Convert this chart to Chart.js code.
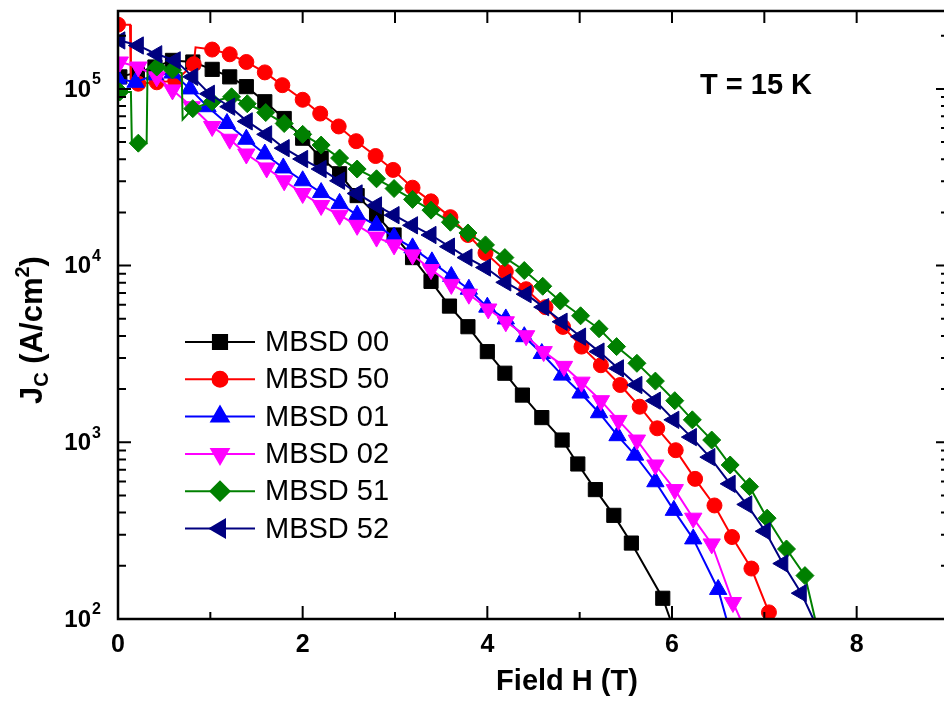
<!DOCTYPE html>
<html>
<head>
<meta charset="utf-8">
<title>Jc vs field, T = 15 K</title>
<script src="https://cdn.jsdelivr.net/npm/chart.js@4.4.1/dist/chart.umd.min.js"></script>
<style>
  html, body { margin: 0; padding: 0; background: #fff; overflow: hidden; }
  #wrap { width: 944px; height: 701px; overflow: hidden; }
</style>
</head>
<body>
<div id="wrap"><canvas id="jcChart" width="960" height="701"></canvas></div>
<script>
// field H (T) and Jc (A/cm2)
const h00 = [0.02, 0.21, 0.40, 0.59, 0.81, 1.02, 1.21, 1.39, 1.59, 1.80, 2.00, 2.20, 2.40, 2.59, 2.80, 2.99, 3.19, 3.39, 3.59, 3.79, 4.00, 4.19, 4.38, 4.59, 4.81, 4.98, 5.17, 5.37, 5.56, 5.90, 5.98];
const jc00 = [1.17e5, 1.24e5, 1.33e5, 1.45e5, 1.42e5, 1.29e5, 1.17e5, 1.03e5, 8.46e4, 6.8e4, 5.26e4, 4.06e4, 3.31e4, 2.49e4, 1.93e4, 1.49e4, 1.11e4, 8.14e3, 5.9e3, 4.51e3, 3.26e3, 2.46e3, 1.85e3, 1.38e3, 1.03e3, 754, 540, 386, 269, 131, 100];
const line00 = [30];

const h50 = [0, 0.13, 0.14, 0.22, 0.42, 0.62, 0.82, 0.84, 1.02, 1.21, 1.39, 1.59, 1.78, 2.00, 2.19, 2.39, 2.58, 2.79, 2.98, 3.19, 3.39, 3.60, 3.79, 3.98, 4.20, 4.42, 4.63, 4.82, 5.02, 5.23, 5.44, 5.65, 5.84, 6.04, 6.25, 6.46, 6.65, 6.86, 7.05];
const jc50 = [2.31e5, 2.31e5, 1.07e5, 1.07e5, 1.09e5, 1.11e5, 1.38e5, 1.72e5, 1.67e5, 1.57e5, 1.42e5, 1.24e5, 1.05e5, 8.68e4, 7.25e4, 6.13e4, 5.06e4, 4.17e4, 3.48e4, 2.76e4, 2.31e4, 1.88e4, 1.49e4, 1.18e4, 9.25e3, 7.35e3, 5.82e3, 4.5e3, 3.48e3, 2.73e3, 2.11e3, 1.59e3, 1.2e3, 902, 621, 439, 291, 193, 109];
const line50 = [1, 2, 7];

const h01 = [0, 0.19, 0.40, 0.59, 0.78, 0.97, 1.18, 1.39, 1.59, 1.79, 2.00, 2.20, 2.40, 2.59, 2.80, 2.99, 3.19, 3.40, 3.61, 3.80, 4.00, 4.20, 4.40, 4.59, 4.81, 5.01, 5.21, 5.41, 5.60, 5.82, 6.02, 6.23, 6.50, 6.59];
const jc01 = [1.14e5, 1.09e5, 1.2e5, 1.23e5, 1.0e5, 7.93e4, 6.37e4, 5.19e4, 4.28e4, 3.57e4, 3.02e4, 2.59e4, 2.25e4, 1.93e4, 1.69e4, 1.45e4, 1.26e4, 1.05e4, 8.68e3, 7.35e3, 5.82e3, 4.99e3, 3.96e3, 3.18e3, 2.4e3, 1.9e3, 1.47e3, 1.09e3, 846, 598, 412, 284, 147, 100];
const line01 = [33];

const h02 = [0.02, 0.22, 0.42, 0.59, 0.80, 1.02, 1.21, 1.39, 1.61, 1.80, 2.00, 2.20, 2.40, 2.59, 2.80, 2.99, 3.19, 3.39, 3.61, 3.80, 4.01, 4.20, 4.42, 4.61, 4.83, 5.02, 5.23, 5.42, 5.62, 5.82, 6.03, 6.23, 6.43, 6.66, 6.74];
const jc02 = [1.42e5, 1.33e5, 1.17e5, 9.87e4, 7.93e4, 6.13e4, 5.19e4, 4.28e4, 3.57e4, 3.02e4, 2.56e4, 2.19e4, 1.93e4, 1.69e4, 1.45e4, 1.31e4, 1.15e4, 9.5e3, 7.83e3, 6.89e3, 5.68e3, 4.81e3, 4.01e3, 3.26e3, 2.69e3, 2.19e3, 1.72e3, 1.33e3, 1.03e3, 744, 540, 372, 266, 124, 100];
const line02 = [34];

const h51 = [0.02, 0.14, 0.15, 0.22, 0.31, 0.32, 0.42, 0.59, 0.69, 0.70, 0.81, 1.02, 1.23, 1.40, 1.60, 1.80, 2.00, 2.20, 2.40, 2.59, 2.80, 2.99, 3.19, 3.39, 3.60, 3.79, 3.98, 4.19, 4.40, 4.60, 4.79, 5.01, 5.21, 5.40, 5.62, 5.82, 6.03, 6.22, 6.43, 6.63, 6.84, 7.03, 7.24, 7.44, 7.55];
const jc51 = [9.62e4, 9.62e4, 4.93e4, 4.93e4, 4.93e4, 1.3e5, 1.33e5, 1.28e5, 1.23e5, 6.71e4, 7.73e4, 8.46e4, 9.02e4, 8.24e4, 7.35e4, 6.37e4, 5.53e4, 4.81e4, 4.06e4, 3.52e4, 3.1e4, 2.73e4, 2.37e4, 2.06e4, 1.76e4, 1.53e4, 1.31e4, 1.11e4, 9.38e3, 7.64e3, 6.3e3, 5.2e3, 4.39e3, 3.48e3, 2.8e3, 2.22e3, 1.72e3, 1.34e3, 1.03e3, 744, 561, 372, 249, 176, 100];
const line51 = [1, 2, 4, 5, 8, 9, 44];

const h52 = [0.02, 0.22, 0.42, 0.62, 0.81, 0.99, 1.21, 1.40, 1.61, 1.80, 2.00, 2.20, 2.40, 2.59, 2.80, 2.99, 3.19, 3.39, 3.59, 3.78, 3.98, 4.20, 4.42, 4.61, 4.81, 5.01, 5.21, 5.42, 5.62, 5.82, 6.02, 6.21, 6.41, 6.63, 6.81, 7.01, 7.20, 7.40, 7.53];
const jc52 = [1.88e5, 1.76e5, 1.57e5, 1.45e5, 1.17e5, 9.38e4, 7.93e4, 6.55e4, 5.53e4, 4.62e4, 4.01e4, 3.52e4, 3.02e4, 2.56e4, 2.19e4, 1.93e4, 1.69e4, 1.49e4, 1.28e4, 1.11e4, 9.75e3, 8.04e3, 6.89e3, 5.82e3, 4.81e3, 3.96e3, 3.26e3, 2.62e3, 2.11e3, 1.72e3, 1.34e3, 1.07e3, 824, 582, 445, 314, 206, 140, 100];
const line52 = [38];

const labels = ['MBSD 00', 'MBSD 50', 'MBSD 01', 'MBSD 02', 'MBSD 51', 'MBSD 52'];
const xTickLabels = [0, 2, 4, 6, 8];
const yDecades = [2, 3, 4, 5];

const FONT = '"Liberation Sans", Arial, sans-serif';

function series(i, h, jc, lineOnly, color, style, rot, r) {
  return {
    label: labels[i],
    data: h.map((x, k) => ({ x: x, y: jc[k] })),
    borderColor: color,
    backgroundColor: color,
    borderWidth: 2,
    pointStyle: style,
    pointRotation: rot,
    pointRadius: ctx => lineOnly.includes(ctx.dataIndex) ? 0 : r,
    pointBorderWidth: 1,
    tension: 0,
    order: 5 - i
  };
}

const datasets = [
  series(0, h00, jc00, line00, '#000000', 'rect', 0, 10),
  series(1, h50, jc50, line50, '#ff0000', 'circle', 0, 7.5),
  series(2, h01, jc01, line01, '#0000ff', 'triangle', 0, 10),
  series(3, h02, jc02, line02, '#ff00ff', 'triangle', 180, 10),
  series(4, h51, jc51, line51, '#008000', 'rectRot', 0, 9),
  series(5, h52, jc52, line52, '#000080', 'triangle', -90, 10)
];

// frame, inward ticks, tick labels, titles and legend
const decorate = {
  id: 'decorate',
  afterDraw(chart) {
    const ctx = chart.ctx;
    const a = chart.chartArea;
    const xs = chart.scales.x;
    const ys = chart.scales.y;
    ctx.save();
    ctx.strokeStyle = '#000';
    ctx.lineWidth = 2.5;
    ctx.strokeRect(a.left, a.top, a.right - a.left, a.bottom - a.top);

    ctx.lineWidth = 2;
    ctx.beginPath();
    for (let v = 1; v < 9; v++) {
      const px = xs.getPixelForValue(v);
      const len = v % 2 === 0 ? 13 : 7;
      ctx.moveTo(px, a.bottom); ctx.lineTo(px, a.bottom - len);
      ctx.moveTo(px, a.top); ctx.lineTo(px, a.top + 12);
    }
    for (let d = 2; d <= 5; d++) {
      for (let m = 1; m <= 9; m++) {
        const v = m * Math.pow(10, d);
        if (v > ys.max || (d === 2 && m === 1)) continue;
        const py = ys.getPixelForValue(v);
        const len = m === 1 ? 13 : 8;
        ctx.moveTo(a.left, py); ctx.lineTo(a.left + len, py);
        ctx.moveTo(a.right, py); ctx.lineTo(a.right - len, py);
      }
    }
    ctx.stroke();

    ctx.fillStyle = '#000';
    ctx.textBaseline = 'middle';
    ctx.textAlign = 'center';
    ctx.font = 'bold 25px ' + FONT;
    xTickLabels.forEach(v => ctx.fillText(String(v), xs.getPixelForValue(v), 645));

    yDecades.forEach(d => {
      const py = ys.getPixelForValue(Math.pow(10, d));
      ctx.textAlign = 'right';
      ctx.font = 'bold 24px ' + FONT;
      ctx.fillText('10', 91, py + 1);
      ctx.textAlign = 'left';
      ctx.font = 'bold 16px ' + FONT;
      ctx.fillText(String(d), 92, py - 9);
    });

    ctx.textAlign = 'center';
    ctx.font = 'bold 29px ' + FONT;
    ctx.fillText('Field H (T)', 567, 682);

    ctx.textAlign = 'left';
    ctx.fillText('T = 15 K', 700, 86);

    // y title with subscript and superscript
    ctx.save();
    ctx.translate(42, 330);
    ctx.rotate(-Math.PI / 2);
    ctx.textBaseline = 'alphabetic';
    const big = 'bold 31px ' + FONT, small = 'bold 20px ' + FONT;
    const parts = [['J', big, 0], ['C', small, 6], [' (A/cm', big, 0], ['2', small, -13], [')', big, 0]];
    let total = 0;
    parts.forEach(p => { ctx.font = p[1]; total += ctx.measureText(p[0]).width; });
    let x = -total / 2;
    parts.forEach(p => { ctx.font = p[1]; ctx.fillText(p[0], x, p[2]); x += ctx.measureText(p[0]).width; });
    ctx.restore();

    // legend
    ctx.font = '29px ' + FONT;
    ctx.textAlign = 'left';
    chart.data.datasets.forEach((ds, i) => {
      const y = 342 + i * 37.3;
      ctx.strokeStyle = ds.borderColor;
      ctx.fillStyle = ds.backgroundColor;
      ctx.lineWidth = 2;
      ctx.beginPath();
      ctx.moveTo(185, y); ctx.lineTo(255, y);
      ctx.stroke();
      Chart.helpers.drawPoint(ctx, {
        pointStyle: ds.pointStyle, rotation: ds.pointRotation,
        radius: i === 1 ? 7.5 : (i === 4 ? 9.5 : 10), borderWidth: 1
      }, 220, y);
      ctx.fillStyle = '#000';
      ctx.fillText(ds.label, 265, y + 1);
    });
    ctx.restore();
  }
};

new Chart(document.getElementById('jcChart').getContext('2d'), {
  type: 'line',
  data: { datasets: datasets },
  options: {
    responsive: false,
    animation: false,
    devicePixelRatio: 1,
    events: [],
    layout: { padding: { left: 118, top: 3, right: 8.6, bottom: 82 } },
    plugins: { legend: { display: false }, tooltip: { enabled: false } },
    scales: {
      x: { type: 'linear', min: 0, max: 9, display: false },
      y: { type: 'logarithmic', min: 100, max: 2.76e5, display: false }
    }
  },
  plugins: [decorate]
});
</script>
</body>
</html>
